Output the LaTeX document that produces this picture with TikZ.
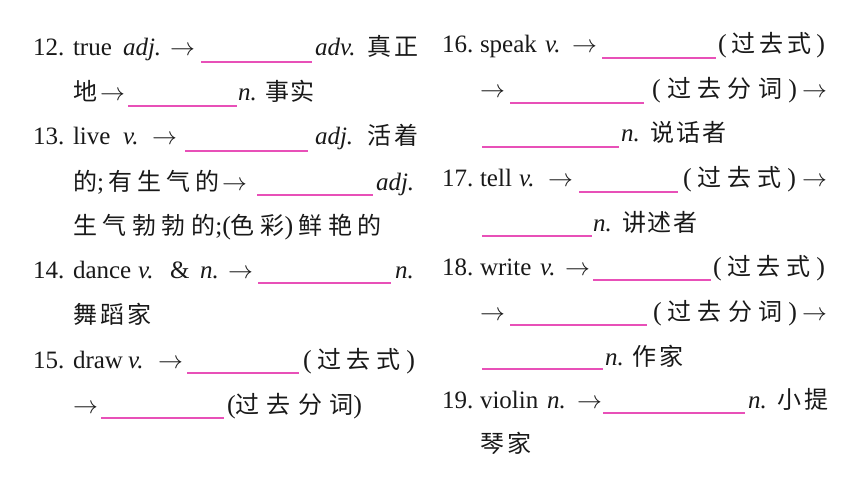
\documentclass[tikz,border=0pt]{standalone}
\usepackage{fontspec}
\setmainfont{Liberation Serif}
\newfontfamily\cjk{Noto Sans CJK SC}
\definecolor{ink}{RGB}{25,25,25}
\definecolor{blankpink}{RGB}{232,80,184}
\tikzset{
  txt/.style={anchor=base west, inner sep=0pt, outer sep=0pt, text=ink, font=\fontsize{25}{25}\selectfont},
  zh/.style={txt, font=\fontsize{24}{24}\cjk},
  blank/.style={draw=blankpink, line width=1.3pt},
}
\newcommand\Sp[2]{\makebox[#1pt][s]{#2}}
\newcommand\LP{{\fontsize{26}{26}\rmfamily(}}
\newcommand\RP{{\fontsize{26}{26}\rmfamily)}}
\newcommand\Sc{{\fontsize{25}{25}\rmfamily;}}
\newcommand\T[5][txt]{\node[#1] (#2) at (#3,#4) {#5};}
\newcommand\Ar{\fontsize{24}{24}\selectfont$\rightarrow$}
\begin{document}
\begin{tikzpicture}[x=1pt,y=-1pt]
\fill[white] (0,0) rectangle (860,484);
\useasboundingbox (0,0) rectangle (860,484);
% ---------- left column ----------
% 12
\T{n12}{33}{56}{12.}
\T{w12}{73}{56}{true}
\T{p12}{123}{56}{\textit{adj.}}
\T{a12}{170}{56}{\Ar}
\draw[blank] (201,62) -- (312,62);
\T{q12}{315}{56}{\textit{adv.}}
\T[zh]{c12}{367}{56}{\Sp{51}{真\hfil 正}}
\T[zh]{c12b}{73}{101}{地}
\T{a12b}{100}{101}{\Ar}
\draw[blank] (128,106) -- (237,106);
\T{q12b}{238}{101}{\textit{n.}}
\T[zh]{c12c}{265}{101}{\Sp{50}{事\hfil 实}}
% 13
\T{n13}{33}{145}{13.}
\T{w13}{73}{145}{live}
\T{p13}{123}{145}{\textit{v.}}
\T{a13}{152}{145}{\Ar}
\draw[blank] (185,151) -- (308,151);
\T{q13}{315}{145}{\textit{adj.}}
\T[zh]{c13}{367}{145}{\Sp{52}{活\hfil 着}}
\T[zh]{c13b}{73}{190}{\Sp{147}{的\Sc\hfil 有\hfil 生\hfil 气\hfil 的}}
\T{a13b}{222}{190}{\Ar}
\draw[blank] (257,195) -- (373,195);
\T{q13b}{376}{190}{\textit{adj.}}
\T[zh]{c13c}{73}{234}{\Sp{309}{生\hfil 气\hfil 勃\hfil 勃\hfil 的\Sc\LP 色\hfil 彩\RP\hfil 鲜\hfil 艳\hfil 的}}
% 14
\T{n14}{33}{278}{14.}
\T{w14}{73}{278}{dance}
\T{p14}{138}{278}{\textit{v.}}
\T{m14}{170}{278}{\&}
\T{r14}{200}{278}{\textit{n.}}
\T{a14}{228}{278}{\Ar}
\draw[blank] (258,283) -- (391,283);
\T{q14}{395}{278}{\textit{n.}}
\T[zh]{c14}{73}{323}{\Sp{79}{舞\hfil 蹈\hfil 家}}
% 15
\T{n15}{33}{368}{15.}
\T{w15}{73}{368}{draw}
\T{p15}{128}{368}{\textit{v.}}
\T{a15}{158}{368}{\Ar}
\draw[blank] (187,373) -- (299,373);
\T[zh]{c15}{303}{368}{\Sp{112}{\LP\hfil 过\hfil 去\hfil 式\hfil\RP}}
\T{a15b}{73}{413}{\Ar}
\draw[blank] (101,418) -- (224,418);
\T[zh]{c15b}{227}{413}{\Sp{135}{\LP 过\hfil 去\hfil 分\hfil 词\RP}}
% ---------- right column ----------
% 16
\T{n16}{442}{53}{16.}
\T{w16}{480}{53}{speak}
\T{p16}{545}{53}{\textit{v.}}
\T{a16}{572}{53}{\Ar}
\draw[blank] (602,58) -- (716,58);
\T[zh]{c16}{718}{53}{\Sp{107}{\LP\hfil 过\hfil 去\hfil 式\hfil\RP}}
\T{a16b}{480}{98}{\Ar}
\draw[blank] (510,103) -- (644,103);
\T[zh]{c16b}{652}{98}{\Sp{145}{\LP\hfil 过\hfil 去\hfil 分\hfil 词\hfil\RP}}
\T{a16c}{802}{98}{\Ar}
\draw[blank] (482,147) -- (619,147);
\T{q16}{621}{142}{\textit{n.}}
\T[zh]{c16c}{650}{142}{\Sp{77}{说\hfil 话\hfil 者}}
% 17
\T{n17}{442}{187}{17.}
\T{w17}{480}{187}{tell}
\T{p17}{519}{187}{\textit{v.}}
\T{a17}{548}{187}{\Ar}
\draw[blank] (579,192) -- (678,192);
\T[zh]{c17}{683}{187}{\Sp{113}{\LP\hfil 过\hfil 去\hfil 式\hfil\RP}}
\T{a17b}{802}{187}{\Ar}
\draw[blank] (482,236) -- (592,236);
\T{q17}{593}{231}{\textit{n.}}
\T[zh]{c17b}{622}{231}{\Sp{76}{讲\hfil 述\hfil 者}}
% 18
\T{n18}{442}{275}{18.}
\T{w18}{480}{275}{write}
\T{p18}{540}{275}{\textit{v.}}
\T{a18}{565}{275}{\Ar}
\draw[blank] (593,280) -- (711,280);
\T[zh]{c18}{713}{275}{\Sp{112}{\LP\hfil 过\hfil 去\hfil 式\hfil\RP}}
\T{a18b}{480}{320}{\Ar}
\draw[blank] (510,325) -- (647,325);
\T[zh]{c18b}{653}{320}{\Sp{144}{\LP\hfil 过\hfil 去\hfil 分\hfil 词\hfil\RP}}
\T{a18c}{802}{320}{\Ar}
\draw[blank] (482,369) -- (603,369);
\T{q18}{605}{365}{\textit{n.}}
\T[zh]{c18c}{632}{365}{\Sp{51}{作\hfil 家}}
% 19
\T{n19}{442}{408}{19.}
\T{w19}{480}{408}{violin}
\T{p19}{547}{408}{\textit{n.}}
\T{a19}{577}{408}{\Ar}
\draw[blank] (603,413) -- (745,413);
\T{q19}{748}{408}{\textit{n.}}
\T[zh]{c19}{777}{408}{\Sp{51}{小\hfil 提}}
\T[zh]{c19b}{480}{452}{\Sp{52}{琴\hfil 家}}
\end{tikzpicture}
\end{document}
